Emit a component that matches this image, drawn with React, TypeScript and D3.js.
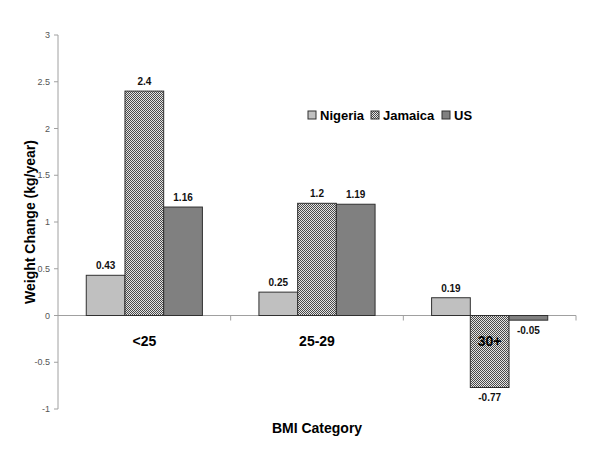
import * as d3 from 'd3';

const categories = ['<25', '25-29', '30+'];
const series = ['Nigeria', 'Jamaica', 'US'];
const nigeria = [0.43, 0.25, 0.19];
const jamaica = [2.4, 1.2, -0.77];
const us = [1.16, 1.19, -0.05];
const yTicks = [-1, -0.5, 0, 0.5, 1, 1.5, 2, 2.5, 3];

const values: Record<string, number[]> = { Nigeria: nigeria, Jamaica: jamaica, US: us };
const fills: Record<string, string> = {
  Nigeria: '#c0c0c0',
  Jamaica: 'url(#checker)',
  US: '#808080',
};

const W = 600;
const H = 450;
const left = 58;
const right = 576;
const top = 35;
const bottom = 409;
const font = 'Arial, "Liberation Sans", sans-serif';

export default function App() {
  const x0 = d3.scaleBand().domain(categories).range([left, right]);
  const x1 = d3
    .scaleBand()
    .domain(series)
    .range([0, x0.bandwidth()])
    .paddingInner(0)
    .paddingOuter(0.73);
  const y = d3.scaleLinear().domain([-1, 3]).range([bottom, top]);

  const fmt = (v: number) => String(v);

  return (
    <svg
      width={W}
      height={H}
      style={{ position: 'absolute', left: 0, top: 0, background: '#fff' }}
      fontFamily={font}
    >
      <defs>
        <pattern id="checker" width={2} height={2} patternUnits="userSpaceOnUse">
          <rect width={2} height={2} fill="#e4e4e4" />
          <rect width={1} height={1} fill="#4a4a4a" />
          <rect x={1} y={1} width={1} height={1} fill="#4a4a4a" />
        </pattern>
      </defs>

      {/* y axis */}
      <line x1={left} x2={left} y1={top} y2={bottom} stroke="#a0a0a0" />
      {yTicks.map((t) => (
        <g key={t}>
          <line x1={left - 4} x2={left} y1={y(t)} y2={y(t)} stroke="#a0a0a0" />
          <text
            x={left - 8}
            y={y(t)}
            dy="0.35em"
            textAnchor="end"
            fontSize={9}
            fill="#555"
          >
            {fmt(t)}
          </text>
        </g>
      ))}

      {/* zero line with category ticks */}
      <line x1={left} x2={right} y1={y(0)} y2={y(0)} stroke="#a0a0a0" />
      {categories.map((c) => (
        <line
          key={c}
          x1={(x0(c) ?? 0) + x0.bandwidth()}
          x2={(x0(c) ?? 0) + x0.bandwidth()}
          y1={y(0)}
          y2={y(0) + 5}
          stroke="#a0a0a0"
        />
      ))}

      {/* bars */}
      {categories.map((c, i) =>
        series.map((s) => {
          const v = values[s][i];
          const bx = (x0(c) ?? 0) + (x1(s) ?? 0);
          const by = v >= 0 ? y(v) : y(0);
          const bh = Math.abs(y(v) - y(0));
          return (
            <g key={c + s}>
              <rect
                x={bx}
                y={by}
                width={x1.bandwidth()}
                height={bh}
                fill={fills[s]}
                stroke="#303030"
                strokeWidth={1}
              />
              <text
                x={bx + x1.bandwidth() / 2}
                y={v >= 0 ? y(v) - 6 : y(v) + 14}
                textAnchor="middle"
                fontSize={10}
                fontWeight="bold"
                fill="#111"
              >
                {fmt(v)}
              </text>
            </g>
          );
        }),
      )}

      {/* category labels */}
      {categories.map((c) => (
        <text
          key={c}
          x={(x0(c) ?? 0) + x0.bandwidth() / 2}
          y={y(0) + 30}
          textAnchor="middle"
          fontSize={14}
          fontWeight="bold"
          fill="#000"
        >
          {c}
        </text>
      ))}

      {/* axis titles */}
      <text
        transform={`translate(35, ${(y(3) + y(-1)) / 2}) rotate(-90)`}
        textAnchor="middle"
        fontSize={14}
        fontWeight="bold"
        fill="#000"
      >
        Weight Change (kg/year)
      </text>
      <text x={317} y={433} textAnchor="middle" fontSize={14} fontWeight="bold" fill="#000">
        BMI Category
      </text>

      {/* legend */}
      {series.map((s, i) => {
        const lx = [308, 371, 442][i];
        return (
          <g key={s}>
            <rect x={lx} y={111} width={8} height={8} fill={fills[s]} stroke="#303030" />
            <text x={lx + 12} y={120} fontSize={13} fontWeight="bold" fill="#000">
              {s}
            </text>
          </g>
        );
      })}
    </svg>
  );
}
